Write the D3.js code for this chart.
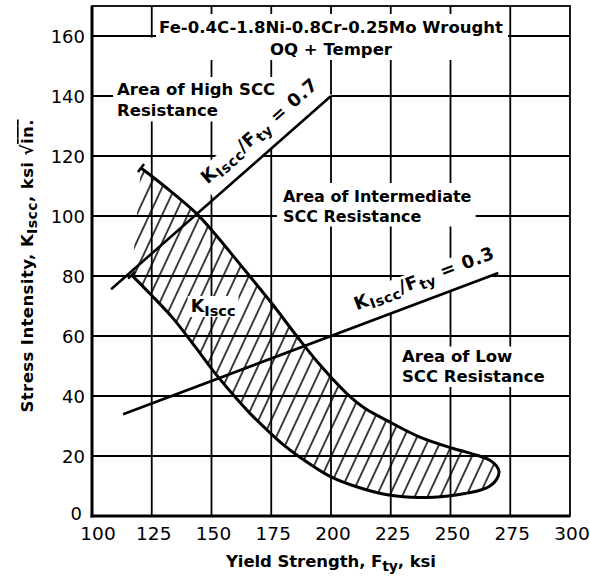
<!DOCTYPE html>
<html>
<head>
<meta charset="utf-8">
<script src="https://cdn.jsdelivr.net/npm/d3@7"></script>
<style>
  body { margin: 0; background: #fff; }
  svg { display: block; }
  text { font-family: "DejaVu Sans", sans-serif; fill: #000; }
</style>
</head>
<body>
<svg id="chart" width="590" height="577"></svg>
<script>
// Axis ticks
const xTicks = [100, 125, 150, 175, 200, 225, 250, 275, 300];
const yTicks = [0, 20, 40, 60, 80, 100, 120, 140, 160];

// K_Iscc scatter band, upper bound (left to right): F_ty in ksi, K_Iscc in ksi*sqrt(in.)
const upperFty = [120.5, 131, 143.8, 152, 160.5, 168, 175.2, 187, 196, 206.5, 214, 223.5, 237.2, 251.2, 261, 266.5, 269.3, 270.3];
const upperK   = [116, 109.5, 100.8, 93.5, 85.3, 78, 70.9, 58.6, 49.8, 40.9, 36, 31.8, 26.3, 22.5, 20.3, 18.6, 16.6, 14.8];
// lower bound (right to left)
const lowerFty = [269.3, 266.5, 262.3, 256, 249, 237, 224.7, 212, 199.6, 187, 180, 173.2, 166, 159, 150.8, 143, 134, 125, 116.6];
const lowerK   = [12.2, 10.0, 8.6, 7.5, 6.7, 6.2, 6.9, 9.4, 13.2, 19.6, 23.8, 28.7, 34.3, 40.5, 48.3, 56.6, 65.8, 73.5, 80.3];

// Constant-ratio lines K_Iscc / F_ty and their yield-strength extent
const ratios    = [0.7, 0.3];
const ratioFrom = [108, 113];
const ratioTo   = [200, 270];

const W = 590, H = 577;
const svg = d3.select("#chart");
const x = d3.scaleLinear().domain([100, 300]).range([92, 570]);
const y = d3.scaleLinear().domain([0, 170]).range([516, 6]);

svg.append("rect").attr("width", W).attr("height", H).attr("fill", "#fff");

// hatch pattern for the band
const defs = svg.append("defs");
const pat = defs.append("pattern")
  .attr("id", "hatch").attr("patternUnits", "userSpaceOnUse")
  .attr("width", 11.6).attr("height", 10)
  .attr("patternTransform", "rotate(25)");
pat.append("line").attr("x1", 5.8).attr("x2", 5.8).attr("y1", -1).attr("y2", 11)
  .attr("stroke", "#000").attr("stroke-width", 1.5);

// grid
const grid = svg.append("g").attr("stroke", "#000").attr("stroke-width", 1.8);
grid.append("g").selectAll("line").data(xTicks.slice(1, -1)).join("line")
  .attr("x1", d => x(d)).attr("x2", d => x(d)).attr("y1", y(0)).attr("y2", y(170));
grid.append("g").selectAll("line").data(yTicks.slice(1)).join("line")
  .attr("x1", x(100)).attr("x2", x(300)).attr("y1", d => y(d)).attr("y2", d => y(d));

const maskLayer = svg.append("g");
const bandLayer = svg.append("g");
const innerMask = svg.append("g");
const lineLayer = svg.append("g");
const textLayer = svg.append("g");

function addMask(layer, b, pad) {
  layer.append("rect")
    .attr("x", b.x - pad[0]).attr("y", b.y - pad[1])
    .attr("width", b.width + pad[0] + pad[2]).attr("height", b.height + pad[1] + pad[3])
    .attr("fill", "#fff");
}

// multi-line bold annotation with a white backing box
function blockLabel(lines, px, py, gap, anchor, size, pad, rightEdge) {
  const t = textLayer.append("text")
    .attr("font-weight", "bold").attr("font-size", size).attr("text-anchor", anchor);
  lines.forEach((s, i) => t.append("tspan").attr("x", px).attr("y", py + i * gap).text(s));
  const b = t.node().getBBox();
  const p = pad.slice();
  if (rightEdge !== undefined) p[2] = rightEdge - (b.x + b.width);
  addMask(maskLayer, b, p);
  return b;
}

blockLabel(["Fe-0.4C-1.8Ni-0.8Cr-0.25Mo Wrought", "OQ + Temper"], x(200), 33, 22, "middle", 16.5, [3, 4, 5, 1]);
const highBox = blockLabel(["Area of High SCC", "Resistance"], x(110.5), 94.5, 21, "start", 16.5, [4, 2.5, 0, 2], x(200) - 3);
// the high-resistance box also clears the 125 ksi rule up to the 160 line
maskLayer.append("rect")
  .attr("x", x(125) - 3).attr("y", y(160) + 1.5)
  .attr("width", 6).attr("height", highBox.y - 2.5 - y(160) - 1.5 + 1)
  .attr("fill", "#fff");
blockLabel(["Area of Intermediate", "SCC Resistance"], x(179.9), 201.5, 20.5, "start", 16, [6, 3.5, 4, 0.5]);
blockLabel(["Area of Low", "SCC Resistance"], x(229.7), 361.5, 20.5, "start", 16.5, [4, 0, 4, 1]);

// band outline: upper bound then lower bound, open at the low-strength end
const bandPts = upperFty.map((f, i) => [x(f), y(upperK[i])])
  .concat(lowerFty.map((f, i) => [x(f), y(lowerK[i])]));
const bandLine = d3.line().curve(d3.curveCatmullRom.alpha(0.5));
bandLayer.append("path").attr("d", bandLine(bandPts) + "Z")
  .attr("fill", "url(#hatch)").attr("stroke", "none");

// K_Iscc label inside the band
const kLab = textLayer.append("text").attr("font-weight", "bold").attr("font-size", 17.5)
  .attr("x", x(141.3)).attr("y", 312);
kLab.append("tspan").text("K");
kLab.append("tspan").attr("font-size", 14.5).attr("dy", 4).text("Iscc");
addMask(innerMask, kLab.node().getBBox(), [3, 0, 3, -2]);

lineLayer.append("path").attr("d", bandLine(bandPts))
  .attr("fill", "none").attr("stroke", "#000").attr("stroke-width", 3).attr("stroke-linejoin", "round");

// short end marks on the open end of the band
function endMark(p, q) {
  const dx = q[0] - p[0], dy = q[1] - p[1], n = Math.hypot(dx, dy);
  const ux = -dy / n * 5, uy = dx / n * 5;
  lineLayer.append("line")
    .attr("x1", p[0] - ux).attr("y1", p[1] - uy).attr("x2", p[0] + ux).attr("y2", p[1] + uy)
    .attr("stroke", "#000").attr("stroke-width", 2.5);
}
endMark(bandPts[0], bandPts[1]);
endMark(bandPts[bandPts.length - 1], bandPts[bandPts.length - 2]);

// constant-ratio lines with their labels
const labelStart = [152.5, 213];
ratios.forEach((r, i) => {
  const x0 = x(ratioFrom[i]), y0 = y(r * ratioFrom[i]);
  const x1 = x(ratioTo[i]), y1 = y(r * ratioTo[i]);
  lineLayer.append("line").attr("x1", x0).attr("y1", y0).attr("x2", x1).attr("y2", y1)
    .attr("stroke", "#000").attr("stroke-width", 2.6);
  const ang = Math.atan2(y1 - y0, x1 - x0) * 180 / Math.PI;
  const sx = x(labelStart[i]), sy = y(r * labelStart[i]);
  const off = 15;
  const g = textLayer.append("g").attr("transform", `translate(${sx},${sy}) rotate(${ang})`);
  const t = g.append("text").attr("font-weight", "bold").attr("font-size", 18)
    .attr("x", 0).attr("y", -off).attr("textLength", 148).attr("lengthAdjust", "spacing");
  t.append("tspan").text("K");
  t.append("tspan").attr("font-size", 14).attr("dy", 4).text("Iscc");
  t.append("tspan").attr("dy", -4).text("/F");
  t.append("tspan").attr("font-size", 14).attr("dy", 4).text("ty");
  t.append("tspan").attr("dy", -4).text(" = " + r);
  // backing box from the text top down to the line
  const mg = maskLayer.append("g").attr("transform", `translate(${sx},${sy}) rotate(${ang})`);
  mg.append("rect").attr("x", -4).attr("y", -off - 16).attr("width", 156).attr("height", off + 16)
    .attr("fill", "#fff");
});

// tick labels
textLayer.append("g").selectAll("text").data(yTicks).join("text")
  .attr("font-size", 18).attr("text-anchor", "end")
  .attr("x", d => d === 0 ? 82 : 85)
  .attr("y", d => y(d) + (d === 0 ? 4 : 7))
  .text(d => d);
textLayer.append("g").selectAll("text").data(xTicks).join("text")
  .attr("font-size", 18.5).attr("text-anchor", "middle")
  .attr("x", d => x(d) + (d === 100 ? 6 : 2))
  .attr("y", 540)
  .text(d => d);

// axis titles
const xt = textLayer.append("text").attr("font-weight", "bold").attr("font-size", 16.5)
  .attr("text-anchor", "middle").attr("x", x(200)).attr("y", 567)
  .attr("textLength", 210).attr("lengthAdjust", "spacing");
xt.append("tspan").text("Yield Strength, F");
xt.append("tspan").attr("font-size", 14).attr("dy", 4).text("ty");
xt.append("tspan").attr("dy", -4).text(", ksi");

const yt = textLayer.append("text").attr("font-weight", "bold").attr("font-size", 16.5)
  .attr("text-anchor", "middle").attr("transform", "translate(33,266) rotate(-90)")
  .attr("textLength", 293).attr("lengthAdjust", "spacing");
yt.append("tspan").text("Stress Intensity, K");
yt.append("tspan").attr("font-size", 14).attr("dy", 4).text("Iscc");
yt.append("tspan").attr("dy", -4).text(", ksi \u221A");
yt.append("tspan").attr("style", "text-decoration: overline").text("in.");

// plot frame: light top/right, heavy left/bottom
const frame = svg.append("g").attr("stroke", "#000").attr("fill", "none");
frame.append("rect").attr("x", x(100)).attr("y", y(170))
  .attr("width", x(300) - x(100)).attr("height", y(0) - y(170)).attr("stroke-width", 1.8);
frame.append("line").attr("x1", x(100)).attr("x2", x(100)).attr("y1", y(170)).attr("y2", y(0) + 1.5).attr("stroke-width", 3);
frame.append("line").attr("x1", x(100) - 1.5).attr("x2", x(300)).attr("y1", y(0)).attr("y2", y(0)).attr("stroke-width", 3);
</script>
</body>
</html>
